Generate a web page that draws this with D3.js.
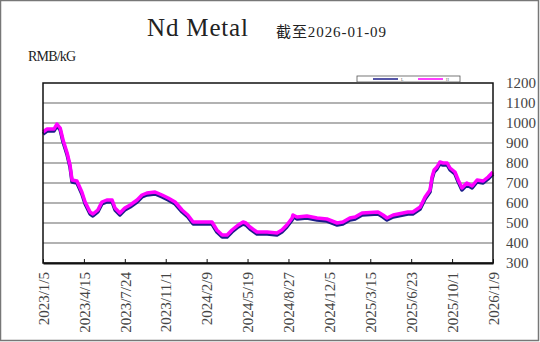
<!DOCTYPE html>
<html>
<head>
<meta charset="utf-8">
<script src="https://cdn.jsdelivr.net/npm/d3@7"></script>
<style>
  body { margin: 0; background: #fff; }
  svg { display: block; }
</style>
</head>
<body>
<svg id="chart"></svg>
<script>
var dates = ["2023-01-05","2023-01-15","2023-02-01","2023-02-08","2023-02-16","2023-02-23","2023-03-05","2023-03-12","2023-03-17","2023-03-29",
  "2023-04-10","2023-04-18","2023-04-30","2023-05-07","2023-05-19","2023-05-29","2023-06-10","2023-06-23","2023-06-30","2023-07-12",
  "2023-07-24","2023-08-06","2023-08-23","2023-09-04","2023-09-16","2023-10-06","2023-10-23","2023-11-07","2023-11-24","2023-12-11",
  "2023-12-25","2024-01-07","2024-01-29","2024-02-22","2024-03-05","2024-03-18","2024-03-30","2024-04-11","2024-04-26","2024-05-08",
  "2024-05-15","2024-05-25","2024-06-11","2024-07-06","2024-07-30","2024-08-11","2024-08-23","2024-09-05","2024-09-07","2024-09-17",
  "2024-10-11","2024-11-05","2024-11-29","2024-12-24","2025-01-07","2025-01-24","2025-02-06","2025-02-23","2025-04-03","2025-04-15",
  "2025-04-25","2025-05-10","2025-06-03","2025-06-15","2025-06-27","2025-07-15","2025-07-27","2025-08-08","2025-08-13","2025-08-18",
  "2025-08-25","2025-09-01","2025-09-09","2025-09-19","2025-09-26","2025-10-08","2025-10-16","2025-10-25","2025-11-06","2025-11-19",
  "2025-12-01","2025-12-16","2025-12-28","2026-01-09"];

// high price (magenta)
var highPrice = [955,970,970,995,975,915,850,790,715,710,
  655,605,555,545,565,605,615,615,575,550,
  575,590,615,640,650,655,640,625,605,565,
  540,505,505,505,465,440,440,465,490,505,
  500,480,455,455,450,465,490,525,540,530,
  535,525,520,500,505,525,530,550,555,540,
  525,540,550,555,555,580,630,665,730,765,
  780,805,800,800,775,755,715,675,700,685,
  715,710,730,755];

// low price (navy)
var lowPrice = [945,960,960,985,965,905,840,780,705,700,
  645,595,545,535,555,595,605,605,565,540,
  565,580,605,630,640,645,630,615,595,555,
  530,495,495,495,455,430,430,455,480,495,
  490,470,445,445,440,455,480,515,530,520,
  525,515,510,490,495,515,520,540,545,530,
  515,530,540,545,545,570,620,655,720,755,
  770,795,790,790,765,745,705,665,690,675,
  705,700,720,745];

var tickLabels = ["2023/1/5","2023/4/15","2023/7/24","2023/11/1","2024/2/9","2024/5/19",
  "2024/8/27","2024/12/5","2025/3/15","2025/6/23","2025/10/1","2026/1/9"];
var yTicks = [300,400,500,600,700,800,900,1000,1100,1200];

function init(){
    var parse = d3.timeParse("%Y-%m-%d");
    var parseTick = d3.timeParse("%Y/%m/%d");
    var data = dates.map(function(d, i){
        return {date: parse(d), high: highPrice[i], low: lowPrice[i]};
    });
    var tickDates = tickLabels.map(function(t){ return parseTick(t); });

    var W = 540, H = 342;
    var margin = {top: 83, right: 47, bottom: 79, left: 43};
    var width = W - margin.left - margin.right;
    var height = H - margin.top - margin.bottom;

    var svg = d3.select("#chart").attr("width", W).attr("height", H);

    // outer frame
    svg.append("rect")
        .attr("x", 0.5).attr("y", 0.5)
        .attr("width", W - 2).attr("height", H - 2)
        .attr("fill", "#fff").attr("stroke", "#777").attr("stroke-width", 1.5);

    // titles
    svg.append("text")
        .attr("x", 147).attr("y", 36)
        .attr("textLength", 101).attr("lengthAdjust", "spacing")
        .style("font-family", "'Liberation Serif', serif").style("font-size", "25px")
        .attr("fill", "#222")
        .text("Nd Metal");
    svg.append("text")
        .attr("x", 276).attr("y", 37)
        .attr("textLength", 110)
        .style("font-family", "'Liberation Serif', 'Noto Sans CJK SC', serif").style("font-size", "15px")
        .attr("fill", "#222")
        .text("截至2026-01-09");
    svg.append("text")
        .attr("x", 28).attr("y", 61)
        .attr("textLength", 48)
        .style("font-family", "'Liberation Serif', serif").style("font-size", "14px")
        .attr("fill", "#222")
        .text("RMB/kG");

    var g = svg.append("g")
        .attr("transform", "translate(" + margin.left + "," + margin.top + ")");

    var x = d3.scaleTime()
        .domain([tickDates[0], tickDates[tickDates.length - 1]])
        .range([0, width]);
    var y = d3.scaleLinear()
        .domain([300, 1200])
        .range([height, 0]);

    // grid lines
    g.append("g")
        .selectAll("line")
        .data(yTicks.slice(1, -1))
        .enter().append("line")
        .attr("x1", 0).attr("x2", width)
        .attr("y1", function(d){ return y(d); })
        .attr("y2", function(d){ return y(d); })
        .attr("stroke", "#999").attr("stroke-width", 1.5);

    // lines
    var lineLow = d3.line()
        .x(function(d){ return x(d.date); })
        .y(function(d){ return y(d.low); });
    var lineHigh = d3.line()
        .x(function(d){ return x(d.date); })
        .y(function(d){ return y(d.high); });

    g.append("path").datum(data)
        .attr("d", lineLow)
        .attr("fill", "none").attr("stroke", "#1c1c8a")
        .attr("stroke-width", 3.5).attr("stroke-linejoin", "round");
    g.append("path").datum(data)
        .attr("d", lineHigh)
        .attr("fill", "none").attr("stroke", "#ff00ff")
        .attr("stroke-width", 3.5).attr("stroke-linejoin", "round");

    // plot border
    g.append("rect")
        .attr("width", width).attr("height", height)
        .attr("fill", "none").attr("stroke", "#111").attr("stroke-width", 1.5);

    // x axis
    var xAxis = g.append("g")
        .attr("transform", "translate(0," + height + ")")
        .call(d3.axisBottom(x)
            .tickValues(tickDates)
            .tickSizeInner(-4).tickSizeOuter(0)
            .tickFormat(function(d, i){ return tickLabels[i]; }));
    xAxis.select(".domain").attr("stroke", "#111").attr("stroke-width", 2);
    xAxis.selectAll(".tick line").attr("stroke", "#111");
    xAxis.selectAll(".tick text")
        .attr("transform", "rotate(-90)")
        .attr("x", -9).attr("y", 0).attr("dy", "0.35em")
        .style("text-anchor", "end")
        .style("font-family", "'Liberation Serif', serif").style("font-size", "15px")
        .attr("fill", "#444");

    // y axis on the right
    var yAxis = g.append("g")
        .attr("transform", "translate(" + width + ",0)")
        .call(d3.axisRight(y).tickValues(yTicks).tickSize(0).tickPadding(13).tickFormat(d3.format("d")));
    yAxis.select(".domain").remove();
    yAxis.selectAll("text")
        .style("font-family", "'Liberation Serif', serif").style("font-size", "15px")
        .attr("fill", "#444");

    // legend
    var lg = svg.append("g").attr("transform", "translate(357,76)");
    lg.append("rect").attr("width", 103).attr("height", 6)
        .attr("fill", "#fff").attr("stroke", "#555").attr("stroke-width", 0.8);
    var legendItems = [{c: "#1c1c8a", x: 16, t: "L"}, {c: "#ff00ff", x: 61, t: "H"}];
    legendItems.forEach(function(it){
        lg.append("line").attr("x1", it.x).attr("x2", it.x + 25)
            .attr("y1", 3).attr("y2", 3)
            .attr("stroke", it.c).attr("stroke-width", 1.5);
        lg.append("text").attr("x", it.x + 28).attr("y", 5)
            .style("font-size", "4px").attr("fill", "#555").text(it.t);
    });
}
window.onload = init;
</script>
</body>
</html>
